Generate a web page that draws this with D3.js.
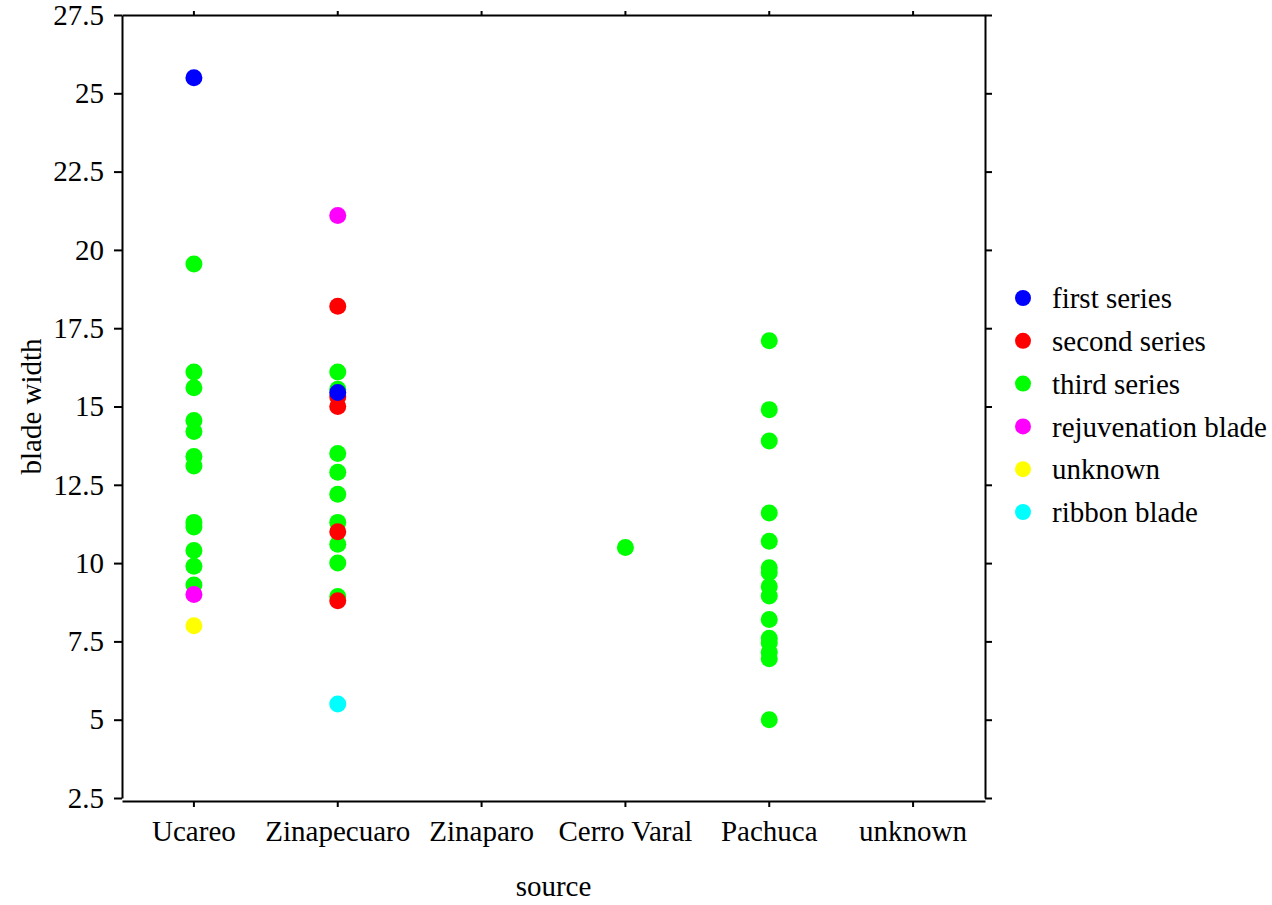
<!DOCTYPE html>
<html>
<head>
<meta charset="utf-8">
<script src="https://cdn.jsdelivr.net/npm/d3@7"></script>
<style>
  html, body { margin: 0; padding: 0; background: #fff; }
  svg text { font-family: "Liberation Serif", "Times New Roman", Times, "DejaVu Serif", serif !important; fill: #000; }
</style>
</head>
<body>
<svg id="chart" width="1272" height="905"></svg>
<script>
// ---- data ----
const categories = ["Ucareo", "Zinapecuaro", "Zinaparo", "Cerro Varal", "Pachuca", "unknown"];
const seriesNames = ["first series", "second series", "third series", "rejuvenation blade", "unknown", "ribbon blade"];
const seriesColors = ["#0000ff", "#ff0000", "#00ff00", "#ff00ff", "#ffff00", "#00ffff"];
const yTicks = [2.5, 5, 7.5, 10, 12.5, 15, 17.5, 20, 22.5, 25, 27.5];

// points per series: [category, value]
const firstSeries = [["Ucareo", 25.5], ["Zinapecuaro", 15.45]];
const secondSeries = [["Zinapecuaro", 18.2], ["Zinapecuaro", 15.3], ["Zinapecuaro", 15.0], ["Zinapecuaro", 11.0], ["Zinapecuaro", 8.8]];
const thirdSeries = [
  ["Ucareo", 19.55], ["Ucareo", 16.1], ["Ucareo", 15.6], ["Ucareo", 14.55], ["Ucareo", 14.2],
  ["Ucareo", 13.4], ["Ucareo", 13.1], ["Ucareo", 11.3], ["Ucareo", 11.15], ["Ucareo", 10.4],
  ["Ucareo", 9.9], ["Ucareo", 9.3],
  ["Zinapecuaro", 16.1], ["Zinapecuaro", 15.55], ["Zinapecuaro", 13.5], ["Zinapecuaro", 12.9],
  ["Zinapecuaro", 12.2], ["Zinapecuaro", 11.3], ["Zinapecuaro", 10.6], ["Zinapecuaro", 10.0],
  ["Zinapecuaro", 8.93],
  ["Cerro Varal", 10.5],
  ["Pachuca", 17.1], ["Pachuca", 14.9], ["Pachuca", 13.9], ["Pachuca", 11.6], ["Pachuca", 10.7],
  ["Pachuca", 9.85], ["Pachuca", 9.7], ["Pachuca", 9.25], ["Pachuca", 8.95], ["Pachuca", 8.2],
  ["Pachuca", 7.6], ["Pachuca", 7.45], ["Pachuca", 7.15], ["Pachuca", 6.95], ["Pachuca", 5.0]
];
const rejuvenationSeries = [["Ucareo", 9.0], ["Zinapecuaro", 21.1]];
const unknownSeries = [["Ucareo", 8.0]];
const ribbonSeries = [["Zinapecuaro", 5.5]];
const seriesData = [firstSeries, secondSeries, thirdSeries, rejuvenationSeries, unknownSeries, ribbonSeries];
const drawOrder = [2, 1, 0, 3, 4, 5];

// ---- layout ----
const L = 122, T = 15, R = 985, B = 798;
const FONT = '"Liberation Serif", "Times New Roman", Times, serif';
const svg = d3.select("#chart");
const x = d3.scaleBand().domain(categories).range([L, R]);
const y = d3.scaleLinear().domain([2.5, 27.5]).range([B, T]);
const FS = 29;

// left axis
const gLeft = svg.append("g").attr("transform", `translate(${L},0)`)
  .call(d3.axisLeft(y).tickValues(yTicks).tickSize(8).tickSizeOuter(0).tickPadding(10).tickFormat(d3.format("")));
// right axis
const gRight = svg.append("g").attr("transform", `translate(${R},0)`)
  .call(d3.axisRight(y).tickValues(yTicks).tickSize(7).tickSizeOuter(0).tickFormat(""));
// top axis
const gTop = svg.append("g").attr("transform", `translate(0,${T})`)
  .call(d3.axisTop(x).tickSize(4).tickSizeOuter(0).tickFormat(""));
// bottom axis (slightly offset)
const gBottom = svg.append("g").attr("transform", `translate(0,${B + 3})`)
  .call(d3.axisBottom(x).tickSize(6).tickSizeOuter(0).tickPadding(13));

[gLeft, gRight, gTop, gBottom].forEach(g => {
  g.attr("font-family", FONT).attr("font-size", FS);
  g.selectAll("path.domain").attr("stroke", "#000").attr("stroke-width", 2);
  g.selectAll(".tick line").attr("stroke", "#000").attr("stroke-width", 2);
  g.selectAll("text").attr("font-family", FONT).attr("font-size", FS).attr("fill", "#000");
});

// axis titles
svg.append("text").attr("x", (L + R) / 2).attr("y", 896).attr("text-anchor", "middle")
  .attr("font-family", FONT).attr("font-size", FS).text("source");
svg.append("text").attr("transform", `translate(41,${(T + B) / 2}) rotate(-90)`).attr("text-anchor", "middle")
  .attr("font-family", FONT).attr("font-size", FS).text("blade width");

// points
const ptsG = svg.append("g");
drawOrder.forEach(si => {
  ptsG.selectAll(null).data(seriesData[si]).enter().append("circle")
    .attr("cx", d => x(d[0]) + x.bandwidth() / 2)
    .attr("cy", d => y(d[1]))
    .attr("r", 8.5)
    .attr("fill", seriesColors[si]);
});

// legend
const leg = svg.append("g");
const ly = d3.scaleLinear().domain([0, 5]).range([298, 512]);
seriesNames.forEach((n, i) => {
  leg.append("circle").attr("cx", 1023).attr("cy", ly(i)).attr("r", 8).attr("fill", seriesColors[i]);
  leg.append("text").attr("x", 1052).attr("y", ly(i)).attr("dy", "0.35em")
    .attr("font-family", FONT).attr("font-size", FS).text(n);
});
</script>
</body>
</html>
